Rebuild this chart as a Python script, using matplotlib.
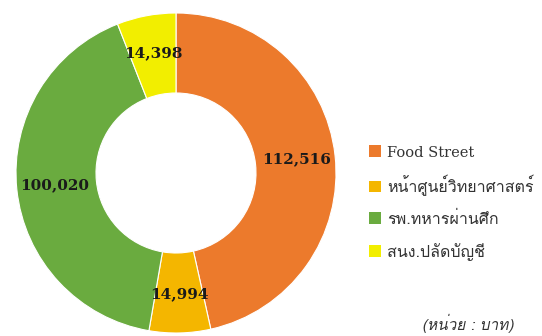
import matplotlib
matplotlib.use("Agg")
import matplotlib.pyplot as plt
from matplotlib import font_manager
from matplotlib.ft2font import FT2Font

# dados
categories = ["Food Street", "หน้าศูนย์วิทยาศาสตร์", "รพ.ทหารผ่านศึก", "สนง.ปลัดบัญชี"]
values = [112516, 14994, 100020, 14398]
colors = ["#EC7A2C", "#F4B600", "#6AAB3F", "#F2EE00"]
unit_text = "(หน่วย : บาท)"


def find_thai_font():
    """Procura uma fonte instalada que tenha glifos tailandeses."""
    for f in font_manager.fontManager.ttflist:
        try:
            if 0x0E01 in FT2Font(f.fname).get_charmap():
                return f.name
        except Exception:
            continue
    return "DejaVu Sans"


thai = find_thai_font()
text_family = [thai, "DejaVu Sans"]

fig = plt.figure(figsize=(5.42, 3.36), dpi=100)
W, H = 542, 336
cx, cy, R = 176, 173, 160   # centro e raio do donut em pixels

ax = fig.add_axes([(cx - R) / W, (H - cy - R) / H, 2 * R / W, 2 * R / H])
total = sum(values)

wedges, _, autotexts = ax.pie(
    values, colors=colors, startangle=90, counterclock=False,
    radius=1.0, wedgeprops=dict(width=0.5, edgecolor="white", linewidth=0.8),
    autopct=lambda p: f"{round(p * total / 100):,}", pctdistance=0.76,
)
for t in autotexts:
    t.set_fontfamily("DejaVu Serif")
    t.set_fontweight("bold")
    t.set_fontsize(11)
    t.set_color("#1a1a1a")
ax.set_xlim(-1, 1)
ax.set_ylim(-1, 1)
ax.set_aspect("equal")

leg = fig.legend(
    wedges, categories, loc="upper left", bbox_to_anchor=(355 / W, 1 - 131 / H),
    frameon=False, handlelength=0.75, handleheight=0.75, handletextpad=0.35,
    labelspacing=0.95, prop=dict(family=text_family, size=11.5),
)
for t in leg.get_texts():
    t.set_color("#333333")
leg.get_texts()[0].set_fontfamily("DejaVu Serif")
leg.get_texts()[0].set_fontsize(10.5)
for h in leg.legend_handles:
    h.set_edgecolor("none")

fig.text(468 / W, 1 - 323 / H, unit_text, ha="center", va="center",
         fontsize=11, style="italic", color="#333333", family=text_family)

fig.savefig("out.png", dpi=100)
